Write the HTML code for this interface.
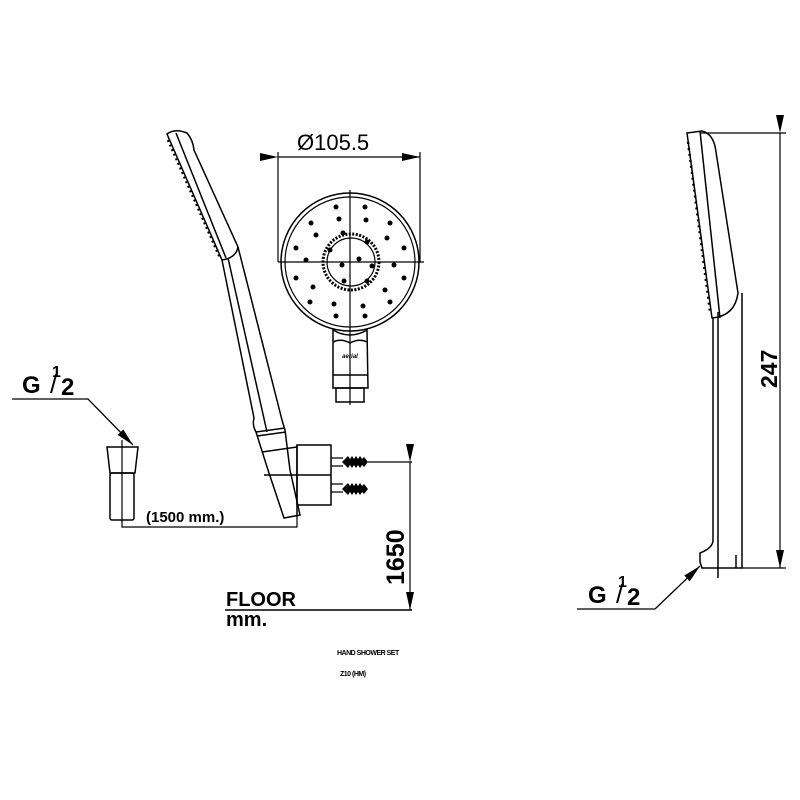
<!DOCTYPE html>
<html><head><style>
html,body{margin:0;padding:0;background:#fff}
svg{display:block}
text{font-family:"Liberation Sans",sans-serif;fill:#000}
</style></head><body>
<svg width="800" height="800" viewBox="0 0 800 800" xmlns="http://www.w3.org/2000/svg">
<defs>
<marker id="arL" markerWidth="18" markerHeight="8" refX="18" refY="4" orient="auto" markerUnits="userSpaceOnUse">
<path d="M0,0 L18,4 L0,8 z" fill="#000"/></marker>
</defs>
<g fill="none" stroke="#000" stroke-width="1.5">
<!-- left handle -->
<path d="M167,134 Q175,128 187,133 Q193,140 194,150 L238,247 Q236,258 222,260 Z"/>
<line x1="176" y1="133" x2="226" y2="258"/>
<path d="M168,140 L220,258" stroke-dasharray="2,3" stroke-width="2.5"/>
<path d="M222,260 L254,418 Q252,425 256,432 L268,470 L284,518 L300,515 L290,470 L285,430 L282,420 L238,247"/>
<line x1="228" y1="258" x2="267" y2="432"/>
<line x1="256" y1="432" x2="285" y2="428"/>
<line x1="257" y1="436" x2="286" y2="432"/>
<path d="M262,452 L297,447"/>
<!-- bracket -->
<rect x="297" y="445" width="34" height="60"/>
<line x1="297" y1="445" x2="297" y2="517"/>
<line x1="264" y1="475" x2="331" y2="475"/>
<!-- screws -->
<g stroke-width="1.2">
<path d="M331,458 H343 M331,466 H343 M331,484 H343 M331,492 H343"/>
</g>
<g fill="#000" stroke="none">
<path d="M342,462 L348,456 L350,459 L352,456 L354,459 L356,456 L358,459 L360,456 L362,459 L364,457 L368,462 L364,467 L362,465 L360,468 L358,465 L356,468 L354,465 L352,468 L350,465 L348,468 Z"/>
<path d="M342,489 L348,483 L350,486 L352,483 L354,486 L356,483 L358,486 L360,483 L362,486 L364,484 L368,489 L364,494 L362,492 L360,495 L358,492 L356,495 L354,492 L352,495 L350,492 L348,495 Z"/>
</g>
<!-- dim 1650 -->
<line x1="368" y1="462" x2="412" y2="462" stroke-width="1.2"/>
<line x1="225" y1="610" x2="412" y2="610" stroke-width="1.5"/>
<line x1="410" y1="462" x2="410" y2="610" stroke-width="1.2" marker-start="url(#arL)" marker-end="url(#arL)"/>
<!-- hose -->
<path d="M122,520 V527 H297 V517" stroke-width="1.2"/>
<!-- fitting -->
<path d="M107,447 H138 L135,473 H110 Z"/>
<rect x="110" y="473" width="24" height="47" rx="2"/>
<line x1="122" y1="440" x2="122" y2="522" stroke-width="1.2"/>
<!-- left G leader -->
<path d="M12,399 H88 L133,445" stroke-width="1.3" marker-end="url(#arL)"/>
<!-- front view -->
<circle cx="350" cy="262" r="69"/>
<circle cx="350" cy="262" r="65" stroke-width="1.2"/>
<circle cx="351" cy="262" r="28" stroke-width="3" stroke-dasharray="2,1.5"/>
<circle cx="351" cy="262" r="24" stroke-width="1.2"/>
<line x1="278" y1="262" x2="424" y2="262" stroke-width="1.2"/>
<line x1="350" y1="190" x2="350" y2="405" stroke-width="1.2"/>
<line x1="278" y1="152" x2="278" y2="262" stroke-width="1.2"/>
<line x1="420" y1="152" x2="420" y2="262" stroke-width="1.2"/>
<line x1="278" y1="157" x2="420" y2="157" stroke-width="1.2" marker-start="url(#arL)" marker-end="url(#arL)"/>
<path d="M333,330 Q350,340 367,330 L368,388 H333 Z"/>
<path d="M333,342 Q341,338 350,343 Q359,338 367,342"/>
<line x1="333" y1="375" x2="368" y2="375"/>
<rect x="336" y="388" width="28" height="14"/>
<!-- right side view -->
<path d="M687,133 L702,131 Q714,134 716,152 L738,293 Q735,316 712,318 Z"/>
<line x1="700" y1="131" x2="720" y2="318"/>
<path d="M688,142 L710,312" stroke-dasharray="2,4" stroke-width="2.5"/>
<path d="M713,318 V540 Q713,548 700,553 V562 L702,568 H742 V293"/>
<line x1="718" y1="312" x2="718" y2="578"/>
<line x1="736" y1="555" x2="736" y2="568"/>
<line x1="700" y1="133" x2="786" y2="133" stroke-width="1.2"/>
<line x1="742" y1="568" x2="786" y2="568" stroke-width="1.2"/>
<line x1="780" y1="133" x2="780" y2="568" stroke-width="1.2" marker-start="url(#arL)" marker-end="url(#arL)"/>
<path d="M577,609 H655 L700,566" stroke-width="1.3" marker-end="url(#arL)"/>
</g>
<!-- dots -->
<g fill="#000">
<circle cx="336" cy="207" r="2.5"/><circle cx="365" cy="207" r="2.5"/>
<circle cx="339" cy="219" r="2.5"/><circle cx="366" cy="220" r="2.5"/>
<circle cx="311" cy="223" r="2.5"/><circle cx="390" cy="223" r="2.5"/>
<circle cx="316" cy="235" r="2.5"/><circle cx="387" cy="238" r="2.5"/>
<circle cx="296" cy="248" r="2.5"/><circle cx="404" cy="248" r="2.5"/>
<circle cx="306" cy="260" r="2.5"/><circle cx="394" cy="265" r="2.5"/>
<circle cx="296" cy="278" r="2.5"/><circle cx="404" cy="278" r="2.5"/>
<circle cx="313" cy="287" r="2.5"/><circle cx="385" cy="290" r="2.5"/>
<circle cx="310" cy="302" r="2.5"/><circle cx="390" cy="302" r="2.5"/>
<circle cx="334" cy="304" r="2.5"/><circle cx="363" cy="306" r="2.5"/>
<circle cx="336" cy="316" r="2.5"/><circle cx="365" cy="316" r="2.5"/>
<circle cx="343" cy="233" r="2.5"/><circle cx="367" cy="242" r="2.5"/>
<circle cx="342" cy="265" r="2.5"/><circle cx="359" cy="259" r="2.5"/>
<circle cx="344" cy="281" r="2.5"/><circle cx="367" cy="281" r="2.5"/>
<circle cx="330" cy="250" r="2.5"/><circle cx="372" cy="266" r="2.5"/>
</g>
<text x="350" y="358" font-size="6" font-style="italic" text-anchor="middle" font-weight="bold">aerial</text>
<!-- labels -->
<text x="297" y="150" font-size="22">Ø105.5</text>
<text x="22" y="393" font-size="24" font-weight="bold">G</text>
<text x="52" y="377" font-size="16" font-weight="bold">1</text>
<text x="50" y="393" font-size="26">/</text>
<text x="61" y="395" font-size="24" font-weight="bold">2</text>
<text x="146" y="522" font-size="15" font-weight="bold">(1500 mm.)</text>
<text transform="translate(404,585) rotate(-90)" font-size="25" font-weight="bold">1650</text>
<text x="226" y="606" font-size="20" font-weight="bold">FLOOR</text>
<text x="226" y="626" font-size="20" font-weight="bold">mm.</text>
<text x="337" y="655" font-size="7" font-weight="bold" letter-spacing="-0.5">HAND SHOWER SET</text>
<text x="340" y="676" font-size="7" font-weight="bold" letter-spacing="-0.5">Z10 (HM)</text>
<text transform="translate(777,388) rotate(-90)" font-size="23" font-weight="bold">247</text>
<text x="588" y="603" font-size="24" font-weight="bold">G</text>
<text x="618" y="587" font-size="16" font-weight="bold">1</text>
<text x="616" y="603" font-size="26">/</text>
<text x="627" y="605" font-size="24" font-weight="bold">2</text>
</svg>
</body></html>
